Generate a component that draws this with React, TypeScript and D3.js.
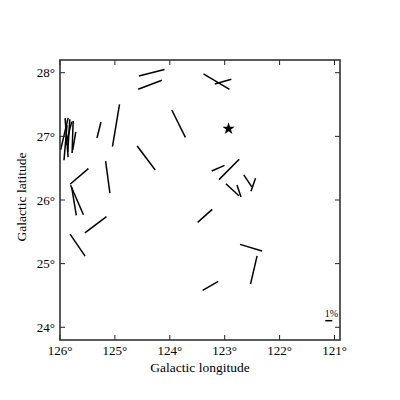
import React from "react";
import * as d3 from "d3";

// Polarization vectors: galactic longitude, latitude, polarization (%), angle (deg, CCW from +x on screen)
const lon = [124.33, 124.36, 124.98, 125.29, 123.84, 124.43, 125.13, 125.65, 125.69, 125.745, 125.35, 125.68,
  123.36, 122.52, 122.47, 123.26, 123.15, 123.03, 123.12, 122.92, 122.86, 122.74, 122.58, 122.48,
  125.92, 125.88, 125.90, 125.84, 125.84, 125.77, 125.74];
const lat = [28.0, 27.81, 27.17, 27.10, 27.20, 26.66, 26.36, 26.37, 26.00, 25.98, 25.61, 25.29,
  25.75, 25.25, 24.90, 24.65, 27.86, 27.86, 26.50, 26.48, 26.16, 26.14, 26.30, 26.24,
  27.04, 26.98, 26.90, 27.01, 27.05, 26.99, 26.93];
const pol = [3.78, 3.62, 6.14, 2.36, 4.36, 4.29, 4.61, 3.43, 4.59, 4.05, 3.86, 3.80,
  2.79, 3.29, 4.15, 2.57, 4.34, 2.46, 1.99, 4.10, 2.53, 1.81, 2.06, 1.97,
  4.69, 5.59, 5.02, 4.72, 3.40, 4.57, 2.61];
const ang = [14.5, 20.8, 80.6, 76.0, -63.5, -53.1, -82.3, 40.3, -66.5, -80.7, 37.0, -55.7,
  41.7, -16.9, 76.9, 30.0, -31.1, 15.8, 23.3, 45.0, -42.7, -71.6, -56.3, 70.9,
  76.8, -85.6, 85.1, 86.5, 75.4, 88.2, 80.5];

const starLon = 122.93;
const starLat = 27.12;

const xTicks = [126, 125, 124, 123, 122, 121];
const yTicks = [24, 25, 26, 27, 28];
const legendPct = 1;

export default function App() {
  const W = 400, H = 400;
  const x0 = 60, x1 = 340, y0 = 60, y1 = 340;
  const x = d3.scaleLinear().domain([126, 120.9]).range([x0, x1]);
  const y = d3.scaleLinear().domain([23.8, 28.2]).range([y1, y0]);
  const p = d3.scaleLinear().domain([0, 1]).range([0, 7]);
  const font = "'Liberation Serif', 'DejaVu Serif', serif";

  const segs = lon.map((l, i) => {
    const cx = x(l), cy = y(lat[i]);
    const half = p(pol[i]) / 2;
    const a = (ang[i] * Math.PI) / 180;
    return { x1: cx - half * Math.cos(a), y1: cy + half * Math.sin(a), x2: cx + half * Math.cos(a), y2: cy - half * Math.sin(a) };
  });

  const star = d3.symbol().type(d3.symbolStar).size(48)() as string;
  const legX = 328.8, legY = 320.7;

  return (
    <svg width={W} height={H} style={{ position: "absolute", left: 0, top: 0 }}>
      <rect x={0} y={0} width={W} height={H} fill="#fff" />
      {segs.map((s, i) => (
        <line key={i} x1={s.x1} y1={s.y1} x2={s.x2} y2={s.y2} stroke="#000" strokeWidth={1.5} />
      ))}
      <path d={star} transform={`translate(${x(starLon)},${y(starLat)})`} fill="#000" />
      {/* legend */}
      <line x1={legX - p(legendPct) / 2} x2={legX + p(legendPct) / 2} y1={legY} y2={legY} stroke="#000" strokeWidth={1.5} />
      <text x={331.5} y={316.5} fontSize={10} fontFamily={font} textAnchor="middle">1%</text>
      {/* ticks */}
      {xTicks.map((t) => (
        <g key={"x" + t}>
          <line x1={x(t)} x2={x(t)} y1={y1} y2={y1 - 5} stroke="#222" strokeWidth={1} />
          <line x1={x(t)} x2={x(t)} y1={y0} y2={y0 + 5} stroke="#222" strokeWidth={1} />
          <text x={x(t)} y={354.5} fontSize={13} fontFamily={font} textAnchor="middle">{t}°</text>
        </g>
      ))}
      {yTicks.map((t) => (
        <g key={"y" + t}>
          <line x1={x0} x2={x0 + 5} y1={y(t)} y2={y(t)} stroke="#222" strokeWidth={1} />
          <line x1={x1} x2={x1 - 5} y1={y(t)} y2={y(t)} stroke="#222" strokeWidth={1} />
          <text x={55} y={y(t) + 4.5} fontSize={13} fontFamily={font} textAnchor="end">{t}°</text>
        </g>
      ))}
      <rect x={x0} y={y0} width={x1 - x0} height={y1 - y0} fill="none" stroke="#333" strokeWidth={1.6} />
      <text x={200} y={372} fontSize={13.5} fontFamily={font} textAnchor="middle">Galactic longitude</text>
      <text transform="translate(26,197) rotate(-90)" fontSize={13.5} fontFamily={font} textAnchor="middle">Galactic latitude</text>
    </svg>
  );
}
